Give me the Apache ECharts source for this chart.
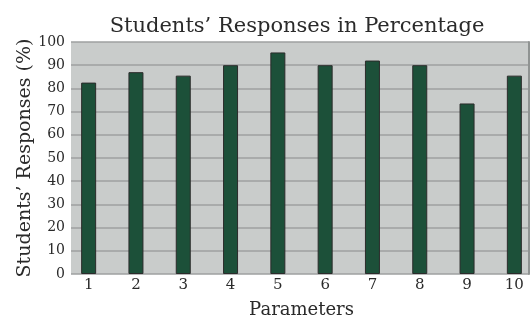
<!DOCTYPE html>
<html>
<head>
<meta charset="utf-8">
<script src="https://cdn.jsdelivr.net/npm/echarts@6/dist/echarts.min.js"></script>
<style>
  html, body { margin: 0; padding: 0; background: #ffffff; }
  #chart { width: 531px; height: 320px; }
</style>
</head>
<body>
<div id="chart"></div>
<script>
// Parameters 1..10 and the share of students responding for each
const categories = ['1', '2', '3', '4', '5', '6', '7', '8', '9', '10'];
const responses = [82.5, 87, 85.5, 90, 95.5, 90, 92, 90, 73.5, 85.5];
const yTicks = { min: 0, max: 100, interval: 10 };

const serif = '"DejaVu Serif", "Liberation Serif", serif';
const textColor = '#2a2a2a';

const chart = echarts.init(document.getElementById('chart'), null, { renderer: 'canvas' });

chart.setOption({
  backgroundColor: '#ffffff',
  animation: false,
  title: {
    text: 'Students’ Responses in Percentage',
    left: 292,
    textAlign: 'center',
    top: 11,
    textStyle: { fontFamily: serif, fontSize: 21, fontWeight: 'normal', color: textColor }
  },
  grid: [
    // grey panel with the horizontal gridlines
    { left: 71, right: 2, top: 42, bottom: 46, show: true, backgroundColor: '#c9cccb', borderWidth: 0, outerBoundsMode: 'none' },
    // bars and category labels
    { left: 65, width: 473, top: 42, bottom: 46, outerBoundsMode: 'none' }
  ],
  xAxis: [
    { gridIndex: 0, type: 'category', data: categories, show: false },
    {
      gridIndex: 1, type: 'category', data: categories,
      axisLine: { show: false }, axisTick: { show: false },
      axisLabel: { fontFamily: serif, fontSize: 15, color: textColor, margin: 4 },
      name: 'Parameters', nameLocation: 'middle', nameGap: 27, nameMoveOverlap: false,
      nameTextStyle: { fontFamily: serif, fontSize: 18, color: textColor }
    }
  ],
  yAxis: [
    {
      gridIndex: 0, type: 'value', min: yTicks.min, max: yTicks.max, interval: yTicks.interval,
      axisLine: { show: false }, axisTick: { show: false },
      axisLabel: { fontFamily: serif, fontSize: 14, color: textColor, margin: 6 },
      splitLine: { show: true, lineStyle: { color: '#9ea1a0', width: 1.5 } },
      name: 'Students’ Responses (%)', nameLocation: 'middle', nameGap: 36, nameMoveOverlap: false,
      nameTextStyle: { fontFamily: serif, fontSize: 19, color: textColor }
    },
    {
      gridIndex: 0, type: 'value', position: 'right', min: yTicks.min, max: yTicks.max, interval: yTicks.interval,
      axisLine: { show: true, lineStyle: { color: '#8f9392', width: 2 } },
      axisTick: { show: false }, axisLabel: { show: false }, splitLine: { show: false }
    },
    {
      gridIndex: 1, type: 'value', min: yTicks.min, max: yTicks.max, interval: yTicks.interval,
      show: false
    }
  ],
  series: [{
    type: 'bar',
    xAxisIndex: 1,
    yAxisIndex: 2,
    data: responses,
    barWidth: 15,
    itemStyle: { color: '#1c5039', borderColor: '#2b2b2b', borderWidth: 1 }
  }]
});
</script>
</body>
</html>
